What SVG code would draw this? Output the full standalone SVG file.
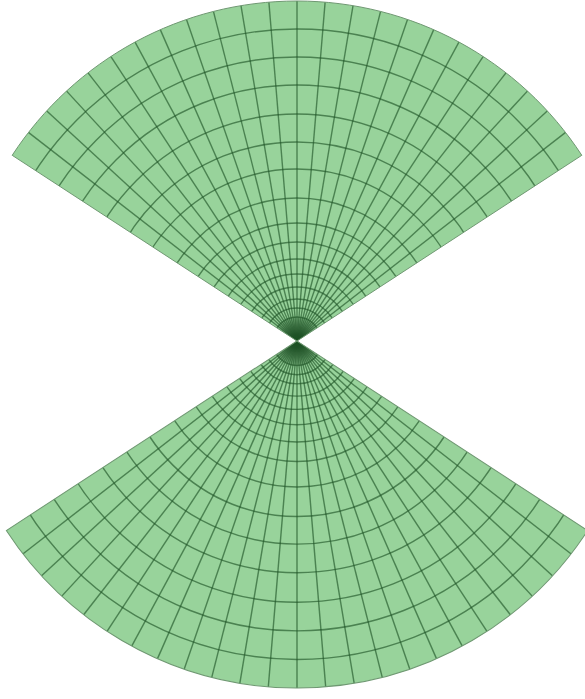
<svg xmlns="http://www.w3.org/2000/svg" xmlns:xlink="http://www.w3.org/1999/xlink" width="585" height="699" viewBox="0 0 585 699">
<style>
.fill{fill:#98d39b;stroke:none}
.gl{fill:none;stroke:#1f5427;stroke-opacity:0.64;stroke-width:1.4}
.edge{fill:none;stroke:#6f9872;stroke-width:1}
</style>
<defs>
<radialGradient id="apexShade" cx="0" cy="0" r="26" gradientUnits="userSpaceOnUse">
<stop offset="0" stop-color="#000" stop-opacity="0.95"/>
<stop offset="0.35" stop-color="#0d2a12" stop-opacity="0.55"/>
<stop offset="1" stop-color="#1f5427" stop-opacity="0.12"/>
</radialGradient>
<clipPath id="sec"><path d="M0,0 L-284.8,-185.7 A340 340 0 0 1 284.8,-185.7 Z"/></clipPath>
<line id="ray" class="gl" x1="0" y1="0" x2="0" y2="-345"/>
<g id="cone">
<path class="fill" d="M0,0 L-284.8,-185.7 A340 340 0 0 1 284.8,-185.7 Z"/>
<g clip-path="url(#sec)">
<circle r="24" fill="url(#apexShade)"/>
<circle class="gl" r="312"/><circle class="gl" r="284"/><circle class="gl" r="256"/><circle class="gl" r="227"/><circle class="gl" r="199"/><circle class="gl" r="172"/><circle class="gl" r="143"/><circle class="gl" r="118"/><circle class="gl" r="99"/><circle class="gl" r="82"/><circle class="gl" r="67"/><circle class="gl" r="54"/><circle class="gl" r="42"/><circle class="gl" r="33"/><circle class="gl" r="24"/>
<use xlink:href="#ray" transform="rotate(-52.158)"/>
<use xlink:href="#ray" transform="rotate(-47.417)"/>
<use xlink:href="#ray" transform="rotate(-42.675)"/>
<use xlink:href="#ray" transform="rotate(-37.933)"/>
<use xlink:href="#ray" transform="rotate(-33.192)"/>
<use xlink:href="#ray" transform="rotate(-28.45)"/>
<use xlink:href="#ray" transform="rotate(-23.708)"/>
<use xlink:href="#ray" transform="rotate(-18.967)"/>
<use xlink:href="#ray" transform="rotate(-14.225)"/>
<use xlink:href="#ray" transform="rotate(-9.483)"/>
<use xlink:href="#ray" transform="rotate(-4.742)"/>
<use xlink:href="#ray"/>
<use xlink:href="#ray" transform="rotate(4.742)"/>
<use xlink:href="#ray" transform="rotate(9.483)"/>
<use xlink:href="#ray" transform="rotate(14.225)"/>
<use xlink:href="#ray" transform="rotate(18.967)"/>
<use xlink:href="#ray" transform="rotate(23.708)"/>
<use xlink:href="#ray" transform="rotate(28.45)"/>
<use xlink:href="#ray" transform="rotate(33.192)"/>
<use xlink:href="#ray" transform="rotate(37.933)"/>
<use xlink:href="#ray" transform="rotate(42.675)"/>
<use xlink:href="#ray" transform="rotate(47.417)"/>
<use xlink:href="#ray" transform="rotate(52.158)"/>
</g>
<path class="edge" d="M0,0 L-284.8,-185.7 A340 340 0 0 1 284.8,-185.7 Z"/>
</g>
</defs>
<g id="upper-cone"><use xlink:href="#cone" transform="translate(297,341)"/></g>
<g id="lower-cone"><use xlink:href="#cone" transform="translate(297,341) scale(1.0206,-1.0206)"/></g>
</svg>
